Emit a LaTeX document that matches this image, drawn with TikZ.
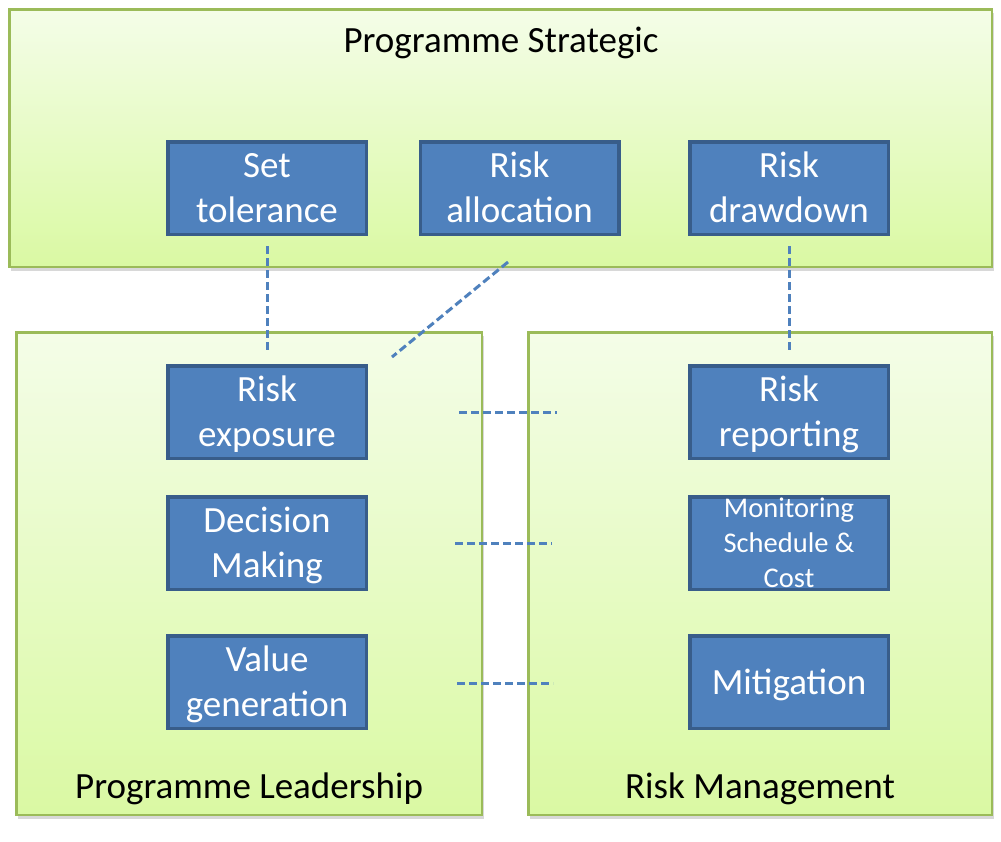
\documentclass[tikz,border=0pt]{standalone}
\usepackage{fontspec}
\setmainfont{Carlito}
\usetikzlibrary{shadows}

\definecolor{grpborder}{RGB}{155,187,89}
\definecolor{grptop}{RGB}{244,253,232}
\definecolor{grpbot}{RGB}{218,249,163}
\definecolor{boxfill}{RGB}{79,129,189}
\definecolor{boxborder}{RGB}{56,93,138}

% struts that give every task text the same height and depth
\newcommand{\topstrut}{\rule{0pt}{34pt}}
\newcommand{\botstrut}{\rule[-10pt]{0pt}{10pt}}

\begin{document}
\begin{tikzpicture}[x=1pt,y=-1pt,
  group/.style={draw=grpborder,line width=2.5pt,top color=grptop,bottom color=grpbot,
    drop shadow={shadow xshift=2pt,shadow yshift=-4pt,opacity=0.3}},
  task/.style={draw=boxborder,line width=3.5pt,fill=boxfill,text=white,align=center,
    minimum width=198.5pt,minimum height=92.5pt,inner sep=0pt,font=\fontsize{37}{45}\selectfont},
  title/.style={anchor=base,font=\fontsize{37}{45}\selectfont},
  link/.style={draw=boxfill,line width=3pt,dash pattern=on 8pt off 4pt}]
  \fill[white] (0,0) rectangle (1001,841);
  \useasboundingbox (0,0) rectangle (1001,841);
  % --- the three groups ---
  \node[group,minimum width=982.5pt,minimum height=257.5pt] (strat) at (500.5,138) {};
  \node[group,minimum width=465.5pt,minimum height=482.5pt] (lead) at (249,573.5) {};
  \node[group,minimum width=463.5pt,minimum height=482.5pt] (riskm) at (760,573.5) {};
  \node[title] (stratLbl) at (501,52)  {Programme Strategic};
  \node[title] (leadLbl)  at (249,798) {Programme Leadership};
  \node[title] (riskLbl)  at (760,798) {Risk Management};
  % --- strategic tasks ---
  \node[task] (tol)    at (267,188)   {\topstrut Set\\tolerance\botstrut};
  \node[task] (alloc)  at (519.5,188) {\topstrut Risk\\allocation\botstrut};
  \node[task] (drawdn) at (789,188)   {\topstrut Risk\\drawdown\botstrut};
  % --- leadership tasks ---
  \node[task] (expo)   at (267,412) {\topstrut Risk\\exposure\botstrut};
  \node[task] (decide) at (267,543) {\topstrut Decision\\Making\botstrut};
  \node[task] (value)  at (267,682) {\topstrut Value\\generation\botstrut};
  % --- risk management tasks ---
  \node[task] (report)  at (789,412) {\topstrut Risk\\reporting\botstrut};
  \node[task,font=\fontsize{28.5}{35}\selectfont] (monitor) at (789,543) {Monitoring\\Schedule \&\\Cost};
  \node[task] (mitig)   at (789,682) {\topstrut Mitigation\botstrut};
  % --- dashed links ---
  \coordinate (tolEnd)    at (267,350);
  \coordinate (drawEnd)   at (789,350);
  \coordinate (allocA)    at (508,262);
  \coordinate (allocB)    at (392,357);
  \coordinate (expoA)     at (459,412);
  \coordinate (expoB)     at (557,412);
  \coordinate (decideA)   at (455,543);
  \coordinate (decideB)   at (552,543);
  \coordinate (valueA)    at (457,683);
  \coordinate (valueB)    at (553,683);
  \draw[link] ([yshift=-10pt]tol.south) -- (tolEnd);
  \draw[link] ([yshift=-10pt]drawdn.south) -- (drawEnd);
  \draw[link] (allocA) -- (allocB);
  \draw[link] (expoA) -- (expoB);
  \draw[link] (decideA) -- (decideB);
  \draw[link] (valueA) -- (valueB);
\end{tikzpicture}
\end{document}
